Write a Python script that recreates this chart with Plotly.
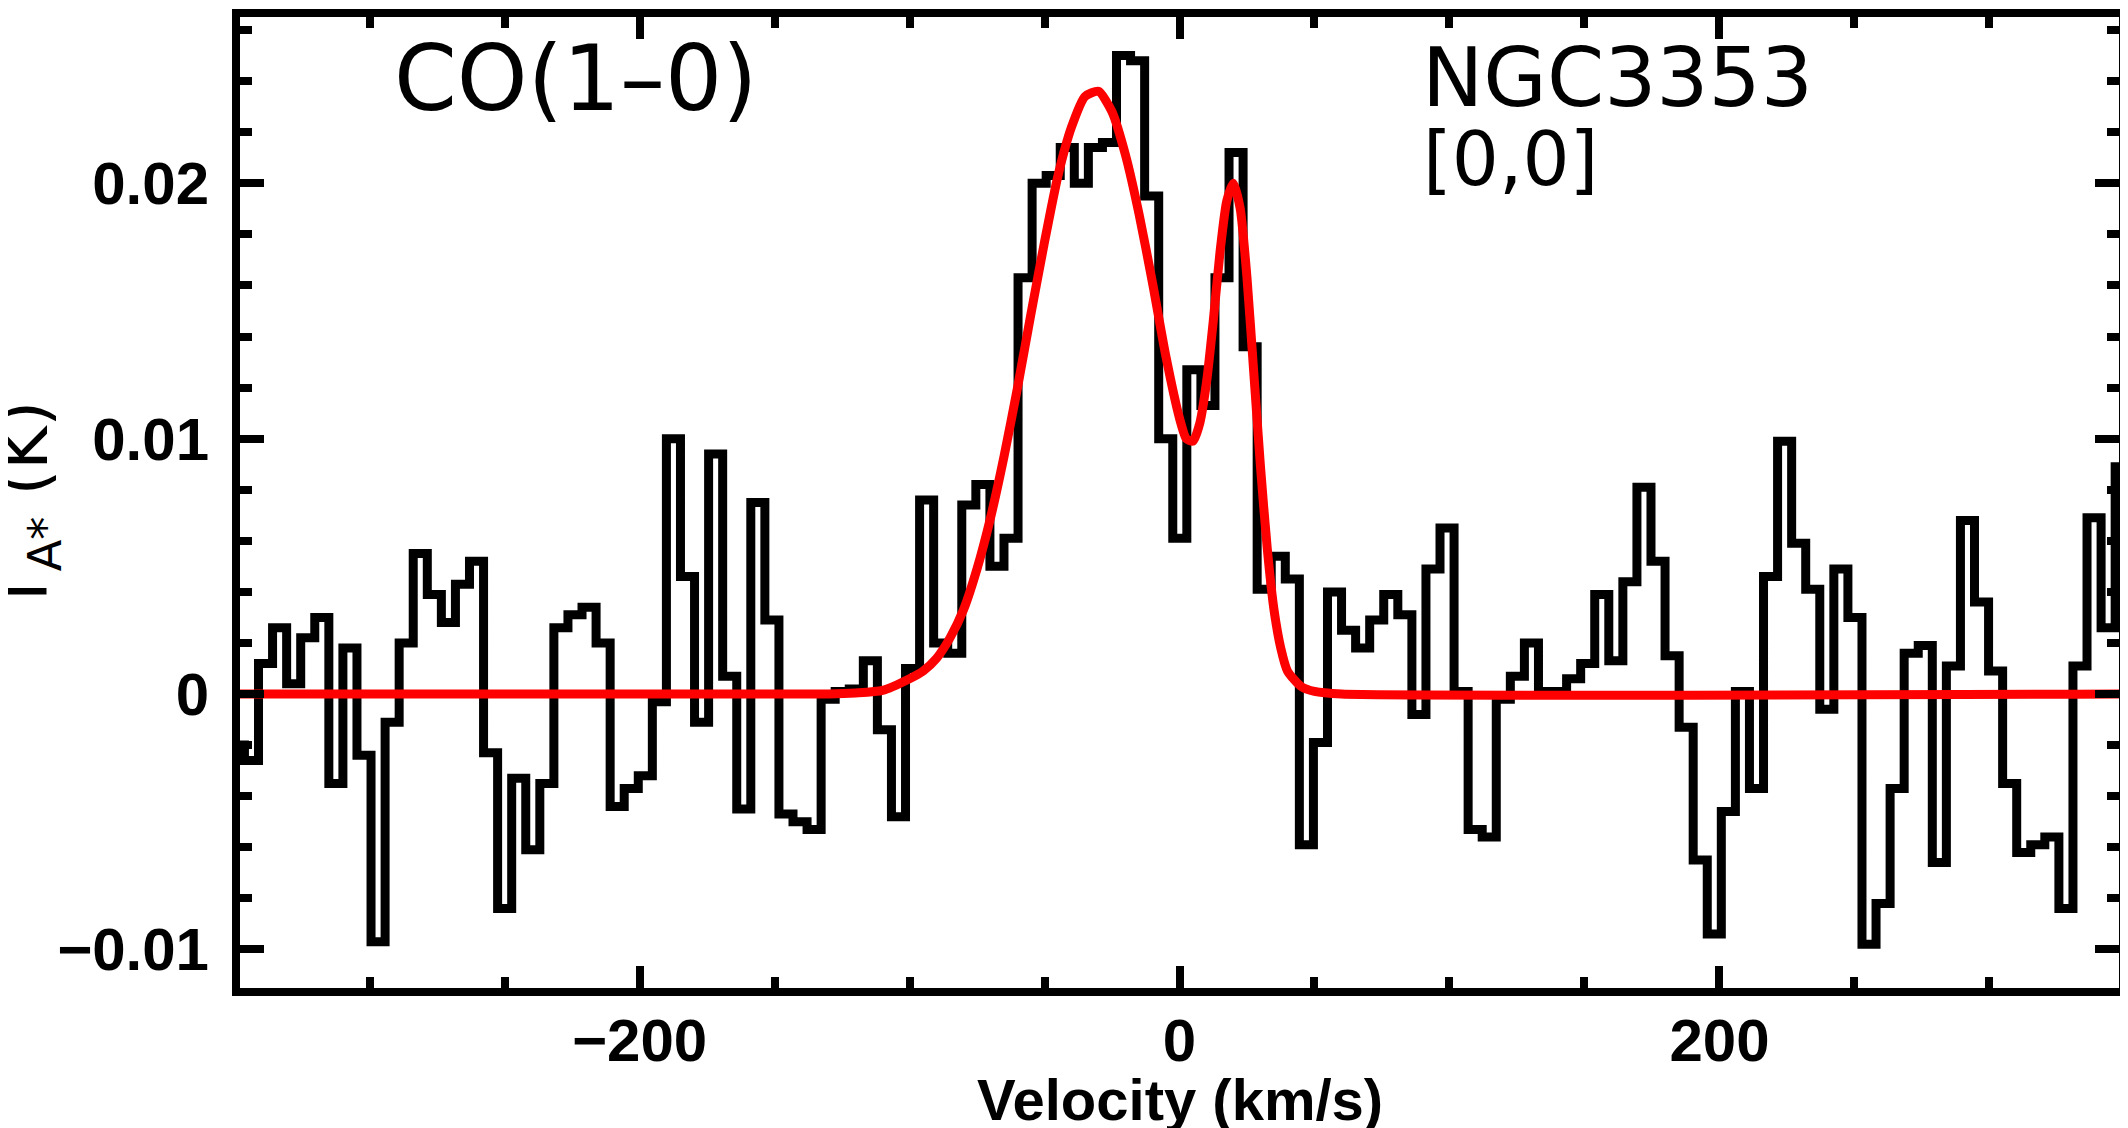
import plotly.graph_objects as go

# channel centres (km/s) and measured antenna temperature (K)
velocity = [
    -348.96, -343.75, -338.54, -333.33, -328.12, -322.91, -317.70, -312.49,
    -307.28, -302.07, -296.86, -291.65, -286.44, -281.23, -276.02, -270.81,
    -265.60, -260.39, -255.18, -249.97, -244.76, -239.55, -234.34, -229.13,
    -223.92, -218.71, -213.50, -208.29, -203.08, -197.87, -192.66, -187.45,
    -182.24, -177.03, -171.82, -166.61, -161.40, -156.19, -150.98, -145.77,
    -140.56, -135.35, -130.14, -124.93, -119.72, -114.51, -109.30, -104.09,
    -98.88, -93.67, -88.46, -83.25, -78.04, -72.83, -67.62, -62.41,
    -57.20, -51.99, -46.78, -41.57, -36.36, -31.15, -25.94, -20.73,
    -15.52, -10.31, -5.10, 0.11, 5.32, 10.53, 15.74, 20.95,
    26.16, 31.37, 36.58, 41.79, 47.00, 52.21, 57.42, 62.63,
    67.84, 73.05, 78.26, 83.47, 88.68, 93.89, 99.10, 104.31,
    109.52, 114.73, 119.94, 125.15, 130.36, 135.57, 140.78, 145.99,
    151.20, 156.41, 161.62, 166.83, 172.04, 177.25, 182.46, 187.67,
    192.88, 198.09, 203.30, 208.51, 213.72, 218.93, 224.14, 229.35,
    234.56, 239.77, 244.98, 250.19, 255.40, 260.61, 265.82, 271.03,
    276.24, 281.45, 286.66, 291.87, 297.08, 302.29, 307.50, 312.71,
    317.92, 323.13, 328.34, 333.55, 338.76, 343.97, 349.18,
]
t_antenna = [
    -0.0020, -0.0026, 0.0012, 0.0026, 0.0004, 0.0022, 0.0030, -0.0035,
    0.0018, -0.0024, -0.0097, -0.0011, 0.0020, 0.0055, 0.0039, 0.0028,
    0.0043, 0.0052, -0.0023, -0.0084, -0.0033, -0.0061, -0.0035, 0.0026,
    0.0031, 0.0034, 0.0020, -0.0044, -0.0037, -0.0032, -0.0003, 0.0100,
    0.0046, -0.0011, 0.0094, 0.0007, -0.0045, 0.0075, 0.0029, -0.0047,
    -0.0050, -0.0053, -0.0002, 0.0001, 0.0002, 0.0013, -0.0014, -0.0048,
    0.0010, 0.0076, 0.0020, 0.0016, 0.0074, 0.0082, 0.0050, 0.0061,
    0.0163, 0.0200, 0.0203, 0.0214, 0.0200, 0.0214, 0.0216, 0.0250,
    0.0248, 0.0195, 0.0100, 0.0061, 0.0127, 0.0113, 0.0163, 0.0212,
    0.0136, 0.0041, 0.0054, 0.0045, -0.0059, -0.0019, 0.0040, 0.0025,
    0.0018, 0.0029, 0.0039, 0.0031, -0.0008, 0.0049, 0.0065, 0.0001,
    -0.0053, -0.0056, -0.0002, 0.0007, 0.0020, 0.0001, 0.0001, 0.0006,
    0.0012, 0.0039, 0.0013, 0.0044, 0.0081, 0.0052, 0.0015, -0.0013,
    -0.0065, -0.0094, -0.0046, 0.0001, -0.0037, 0.0046, 0.0099, 0.0059,
    0.0041, -0.0006, 0.0049, 0.0030, -0.0098, -0.0082, -0.0037, 0.0016,
    0.0019, -0.0066, 0.0011, 0.0068, 0.0036, 0.0009, -0.0035, -0.0062,
    -0.0059, -0.0056, -0.0084, 0.0011, 0.0069, 0.0026, 0.0089,
]

# fitted profile (red)
fit_v = [-350, -130, -120, -110, -100, -95, -90, -85, -80, -75, -70, -65,
         -60, -55, -50, -45, -40, -35, -30, -25, -20, -15, -10, -5, 0,
         2.5, 5, 7.5, 10, 12.5, 15, 17.5, 20, 22.5, 25, 27.5, 30, 32.5,
         35, 37.5, 40, 45, 50, 60, 350]
fit_t = [0, 0, 0.00004, 0.00014, 0.0006, 0.0009, 0.0014, 0.0022, 0.0033,
         0.0049, 0.0069, 0.0093, 0.0120, 0.0149, 0.0177, 0.0203, 0.0222,
         0.0234, 0.0236, 0.0228, 0.0211, 0.0188, 0.0161, 0.0132, 0.0108,
         0.0100, 0.0099, 0.0106, 0.0122, 0.0146, 0.0173, 0.0193, 0.0200,
         0.0190, 0.0163, 0.0126, 0.0089, 0.0057, 0.0033, 0.0018, 0.0009,
         0.0003, 0.0001, 0, 0]

# page has an 8px body margin, so the figure is 8px smaller than the window
W, H = 2120, 1120
tickfont = dict(family='Liberation Sans', size=60, color='black', weight='bold')

spectrum = go.Scatter(x=velocity, y=t_antenna, mode='lines',
                      line=dict(color='black', width=9, shape='hvh'))
fit = go.Scatter(x=fit_v, y=fit_t, mode='lines',
                 line=dict(color='#ff0000', width=9, shape='spline', smoothing=0.6))

axis_common = dict(showline=True, linecolor='black', linewidth=8, mirror='ticks',
                   ticks='inside', tickcolor='black', tickwidth=8,
                   showgrid=False, zeroline=False, tickfont=tickfont)

layout = go.Layout(
    width=W, height=H,
    margin=dict(l=232, r=9, t=1, b=140),
    paper_bgcolor='white', plot_bgcolor='white',
    showlegend=False,
    xaxis=dict(range=[-348, 348], tickvals=[-200, 0, 200], ticklen=22,
               minor=dict(tickvals=[-300, -250, -150, -100, -50, 50, 100, 150, 250, 300],
                          ticks='inside', ticklen=11, tickwidth=8, tickcolor='black'),
               ticklabelstandoff=-7, **axis_common),
    yaxis=dict(range=[-0.01151, 0.02651], tick0=0, dtick=0.01, ticklen=24,
               tickformat='.2~f',
               minor=dict(dtick=0.002, ticks='inside', ticklen=12, tickwidth=8,
                          tickcolor='black'),
               ticklabelstandoff=11, **axis_common),
)

fig = go.Figure(data=[spectrum, fit], layout=layout)

label_font = dict(family='DejaVu Sans', color='black')
fig.add_annotation(text='CO(1–0)', xref='paper', yref='paper', x=0.0809, y=0.9370,
                   xanchor='left', yanchor='middle', showarrow=False,
                   font=dict(size=90, **label_font))
fig.add_annotation(text='NGC3353', xref='paper', yref='paper', x=0.6280, y=0.9375,
                   xanchor='left', yanchor='middle', showarrow=False,
                   font=dict(size=82, **label_font))
fig.add_annotation(text='[0,0]', xref='paper', yref='paper', x=0.6285, y=0.8540,
                   xanchor='left', yanchor='middle', showarrow=False,
                   font=dict(size=74, **label_font))
fig.add_annotation(text='T<sub>A*</sub> (K)', xref='paper', yref='paper', x=-0.1123, y=0.4958,
                   xanchor='center', yanchor='middle', textangle=-90, showarrow=False,
                   font=dict(size=66, **label_font))
fig.add_annotation(text='Velocity (km/s)', xref='paper', yref='paper', x=0.5, y=-0.0797,
                   xanchor='center', yanchor='top', showarrow=False,
                   font=dict(tickfont, size=58))

fig.write_html('out.html')
